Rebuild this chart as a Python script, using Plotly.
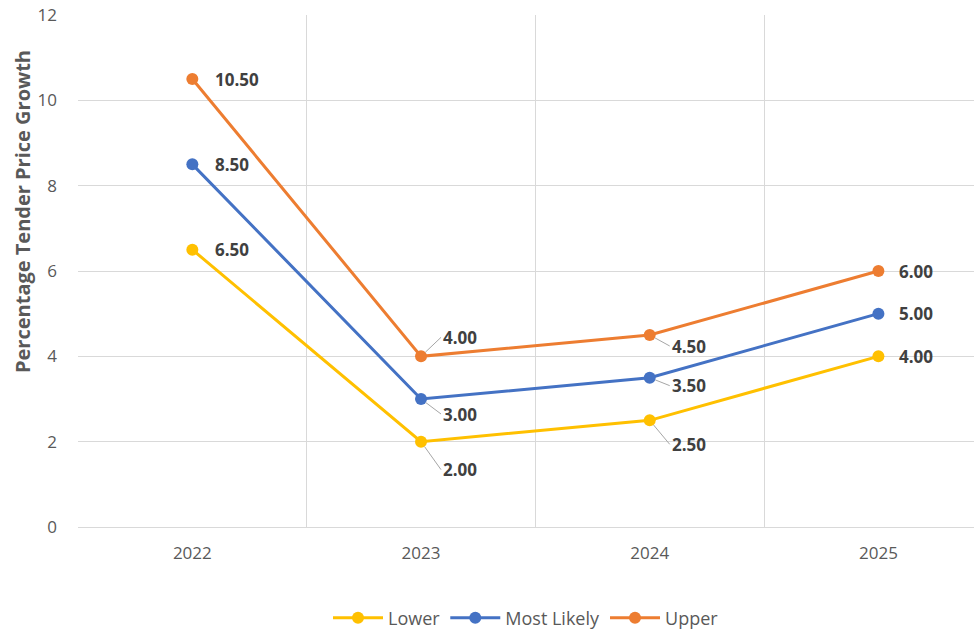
import plotly.graph_objects as go

years = ["2022", "2023", "2024", "2025"]
lower = [6.5, 2.0, 2.5, 4.0]
most_likely = [8.5, 3.0, 3.5, 5.0]
upper = [10.5, 4.0, 4.5, 6.0]

series = [
    ("Lower", lower, "#FFC000"),
    ("Most Likely", most_likely, "#4472C4"),
    ("Upper", upper, "#ED7D31"),
]

# label placement per series per year: (mode, ax, ay)
placements = {
    "Lower": [("right", 21, 0), ("lead", 20, 28), ("lead", 20, 24), ("right", 19, 0)],
    "Most Likely": [("right", 21, 0), ("lead", 20, 15), ("lead", 20, 8), ("right", 19, 0)],
    "Upper": [("right", 21, 0), ("lead", 20, -19), ("lead", 20, 11), ("right", 19, 0)],
}

label_font = dict(family="Open Sans", size=17, color="#404040", weight="bold")

fig = go.Figure()
annotations = []
for name, vals, color in series:
    fig.add_trace(go.Scatter(
        x=years, y=vals, name=name, mode="lines+markers",
        line=dict(color=color, width=3),
        marker=dict(color=color, size=12),
    ))
    for i, (v, (mode, ax, ay)) in enumerate(zip(vals, placements[name])):
        txt = f"{v:.2f}"
        if mode == "right":
            annotations.append(dict(
                x=i, y=v, xref="x", yref="y", text=txt, showarrow=False,
                xanchor="left", yanchor="middle", xshift=ax,
                font=label_font,
            ))
        else:
            annotations.append(dict(
                x=i, y=v, xref="x", yref="y", text=txt, showarrow=True,
                ax=ax, ay=ay, xanchor="left", yanchor="middle",
                arrowhead=0, arrowwidth=1, arrowcolor="#A6A6A6", standoff=6,
                font=label_font,
            ))

annotations.append(dict(
    x=(22 - 78) / 896, xref="paper", xanchor="center",
    y=(527 - 212) / 512, yref="paper", yanchor="middle",
    text="<b>Percentage Tender Price Growth</b>", textangle=-90, showarrow=False,
    font=dict(family="Open Sans", size=20, color="#595959"),
))

fig.update_layout(
    width=974, height=629,
    margin=dict(l=78, r=0, t=15, b=102, autoexpand=False),
    paper_bgcolor="white", plot_bgcolor="white",
    font=dict(family="Open Sans", color="#595959", size=16),
    showlegend=True,
    legend=dict(orientation="h", x=0.5, xanchor="center",
                yref="container", y=(629 - 618) / 629, yanchor="middle",
                font=dict(size=18, color="#595959"), itemwidth=50,
                traceorder="normal"),
    annotations=annotations,
)
fig.update_xaxes(
    type="category", categoryorder="array", categoryarray=years,
    range=[-0.5, 3.418], tickson="boundaries", automargin=False,
    showgrid=True, gridcolor="#D9D9D9", gridwidth=1,
    showline=False, ticks="", zeroline=False,
    tickfont=dict(size=17, color="#595959"), ticklabelstandoff=14,
)
fig.update_yaxes(
    range=[0, 12], dtick=2, showgrid=True, gridcolor="#D9D9D9", gridwidth=1,
    zeroline=True, zerolinecolor="#D9D9D9", zerolinewidth=1,
    showline=False, ticks="", automargin=False,
    tickfont=dict(size=17, color="#595959"), ticklabelstandoff=20,
)

fig.write_html("out.html")
